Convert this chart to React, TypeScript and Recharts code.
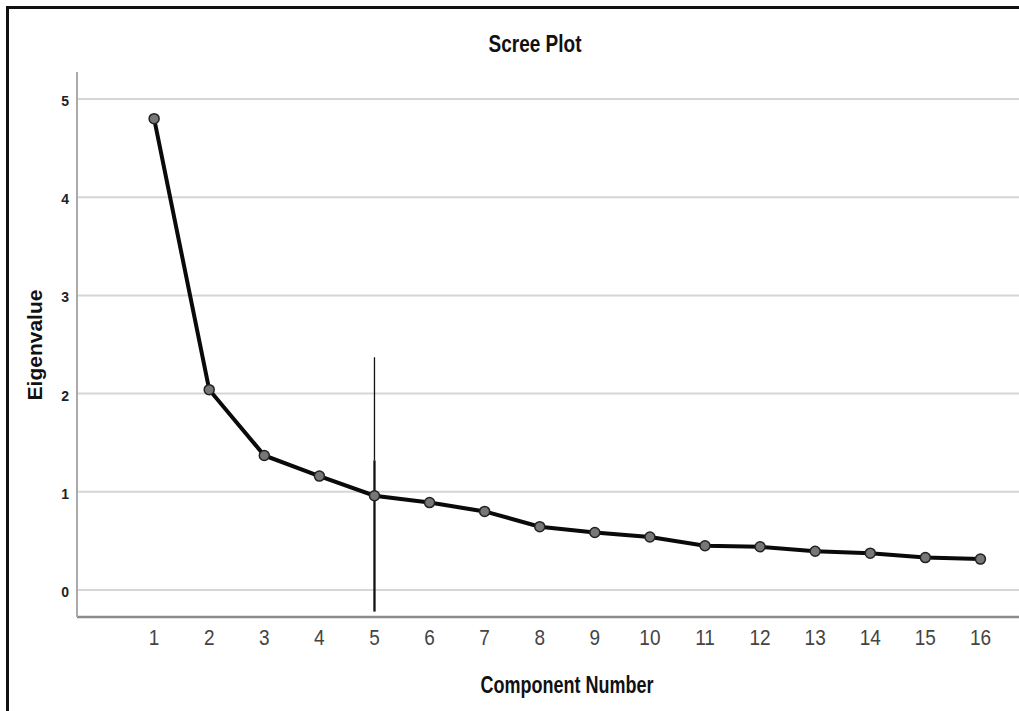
import React from "react";
import { LineChart, Line, XAxis, YAxis, CartesianGrid, ReferenceLine } from "recharts";

const components = [1, 2, 3, 4, 5, 6, 7, 8, 9, 10, 11, 12, 13, 14, 15, 16];
const eigenvalues = [4.8, 2.04, 1.37, 1.16, 0.96, 0.89, 0.8, 0.645, 0.585, 0.54, 0.45, 0.44, 0.395, 0.375, 0.33, 0.315];
const xTicks = [1, 2, 3, 4, 5, 6, 7, 8, 9, 10, 11, 12, 13, 14, 15, 16];
const yTicks = [0, 1, 2, 3, 4, 5];
const titleText = "Scree Plot";
const xLabelText = "Component Number";
const yLabelText = "Eigenvalue";

const data = components.map((c, i) => ({ component: c, eigen: eigenvalues[i] }));

const FONT = "'Liberation Sans', Arial, sans-serif";

const XTick = (props: any) => {
  const { x, payload } = props;
  return (
    <text
      transform={`translate(${x},${645}) scale(1,1.2)`}
      textAnchor="middle"
      fontFamily={FONT}
      fontSize={19}
      fill="#444"
    >
      {payload.value}
    </text>
  );
};

const YTick = (props: any) => {
  const { y, payload } = props;
  return (
    <text
      transform={`translate(69,${y + 7}) scale(1,1.1)`}
      textAnchor="end"
      fontFamily={FONT}
      fontSize={14}
      fontWeight="bold"
      fill="#222"
    >
      {payload.value}
    </text>
  );
};

export default function App() {
  return (
    <div style={{ position: "absolute", left: 0, top: 0, width: 1019, height: 711, overflow: "hidden", background: "#fff" }}>
      <div
        style={{
          position: "absolute",
          left: 6,
          top: 6,
          width: 1030,
          height: 720,
          borderLeft: "3px solid #111",
          borderTop: "3px solid #111",
        }}
      />
      <div style={{ position: "absolute", left: 0, top: 0 }}>
        <LineChart width={1019} height={711} data={data} margin={{ top: 72, right: 0, bottom: 93, left: 76 }}>
          <CartesianGrid vertical={false} stroke="#d6d6d6" strokeWidth={2} horizontalValues={yTicks} />
          <XAxis
            dataKey="component"
            type="number"
            domain={[-0.4, 16.7]}
            ticks={xTicks}
            allowDataOverflow
            height={1}
            tickLine={false}
            axisLine={{ stroke: "#8c8c8c", strokeWidth: 2.5 }}
            tick={<XTick />}
            interval={0}
          />
          <YAxis
            type="number"
            domain={[-0.275, 5.275]}
            ticks={yTicks}
            allowDataOverflow
            width={1}
            tickLine={false}
            axisLine={{ stroke: "#aaaaaa", strokeWidth: 2 }}
            tick={<YTick />}
            interval={0}
          />
          <ReferenceLine
            segment={[{ x: 5, y: 2.37 }, { x: 5, y: 1.32 }]}
            stroke="#111"
            strokeWidth={1.3}
            ifOverflow="visible"
          />
          <ReferenceLine
            segment={[{ x: 5, y: 1.32 }, { x: 5, y: -0.22 }]}
            stroke="#111"
            strokeWidth={2.3}
            ifOverflow="visible"
          />
          <Line
            type="linear"
            dataKey="eigen"
            stroke="#0a0a0a"
            strokeWidth={4}
            dot={{ r: 5, fill: "#777", stroke: "#222", strokeWidth: 1.5 }}
            isAnimationActive={false}
          />
          <text
            transform="translate(535,52) scale(1,1.22)"
            textAnchor="middle"
            fontFamily={FONT}
            fontSize={19}
            fontWeight="bold"
            fill="#111"
          >
            {titleText}
          </text>
          <text
            transform="translate(567,693) scale(1,1.3)"
            textAnchor="middle"
            fontFamily={FONT}
            fontSize={18}
            fontWeight="bold"
            fill="#111"
          >
            {xLabelText}
          </text>
          <text
            transform="translate(42,345) rotate(-90)"
            textAnchor="middle"
            fontFamily={FONT}
            fontSize={21}
            fontWeight="bold"
            fill="#111"
          >
            {yLabelText}
          </text>
        </LineChart>
      </div>
    </div>
  );
}
